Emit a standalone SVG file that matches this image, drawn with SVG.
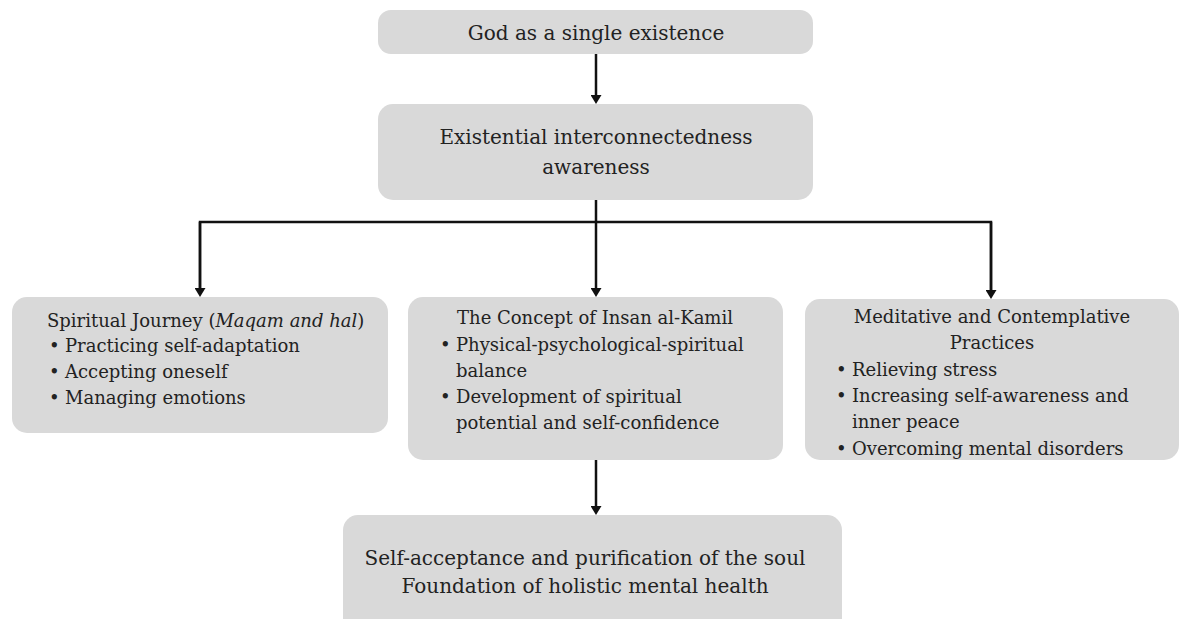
<svg xmlns="http://www.w3.org/2000/svg" width="1181" height="619" viewBox="0 0 1181 619">
<style>
.box{fill:#d9d9d9;}
.t{font-family:"DejaVu Serif","Liberation Serif",serif;fill:#222;}
.h{font-size:20px;}
.b{font-size:18px;}
.c{stroke:#111;stroke-width:2.5;fill:none;}
</style>
<defs>
<marker id="ah" markerWidth="9" markerHeight="11" refX="0" refY="5.5" orient="auto" markerUnits="userSpaceOnUse" viewBox="0 0 9 11">
<path d="M0,0 L9,5.5 L0,11 Z" fill="#111"/>
</marker>
</defs>
<rect width="1181" height="619" fill="#fff"/>
<g id="connectors">
<path class="c" d="M596,54 V95" marker-end="url(#ah)"/>
<path class="c" d="M596,200 V288" marker-end="url(#ah)"/>
<path class="c" d="M200,288 V222 H991 V290"/>
<path class="c" d="M200,222 V288" marker-end="url(#ah)"/>
<path class="c" d="M991,222 V290" marker-end="url(#ah)"/>
<path class="c" d="M596,460 V506" marker-end="url(#ah)"/>
</g>
<g id="n1">
<rect class="box" x="378" y="10" width="435" height="44" rx="13"/>
<text class="t h" x="596" y="40" text-anchor="middle">God as a single existence</text>
</g>
<g id="n2">
<rect class="box" x="378" y="104" width="435" height="96" rx="15"/>
<text class="t h" x="596" y="144" text-anchor="middle">Existential interconnectedness</text>
<text class="t h" x="596" y="174" text-anchor="middle">awareness</text>
</g>
<g id="n3">
<rect class="box" x="12" y="297" width="376" height="136" rx="15"/>
<text class="t b" x="47" y="327">Spiritual Journey (<tspan font-style="italic">Maqam and hal</tspan>)</text>
<text class="t b" x="49" y="352">•</text><text class="t b" x="65" y="352">Practicing self-adaptation</text>
<text class="t b" x="49" y="378">•</text><text class="t b" x="65" y="378">Accepting oneself</text>
<text class="t b" x="49" y="404">•</text><text class="t b" x="65" y="404">Managing emotions</text>
</g>
<g id="n4">
<rect class="box" x="408" y="297" width="375" height="163" rx="15"/>
<text class="t b" x="595" y="324" text-anchor="middle">The Concept of Insan al-Kamil</text>
<text class="t b" x="440" y="351">•</text><text class="t b" x="456" y="351">Physical-psychological-spiritual</text>
<text class="t b" x="456" y="377">balance</text>
<text class="t b" x="440" y="403">•</text><text class="t b" x="456" y="403">Development of spiritual</text>
<text class="t b" x="456" y="429">potential and self-confidence</text>
</g>
<g id="n5">
<rect class="box" x="805" y="299" width="374" height="161" rx="15"/>
<text class="t b" x="992" y="323" text-anchor="middle">Meditative and Contemplative</text>
<text class="t b" x="992" y="349" text-anchor="middle">Practices</text>
<text class="t b" x="836" y="376">•</text><text class="t b" x="852" y="376">Relieving stress</text>
<text class="t b" x="836" y="402">•</text><text class="t b" x="852" y="402">Increasing self-awareness and</text>
<text class="t b" x="852" y="428">inner peace</text>
<text class="t b" x="836" y="455">•</text><text class="t b" x="852" y="455">Overcoming mental disorders</text>
</g>
<g id="n6">
<rect class="box" x="343" y="515" width="499" height="120" rx="15"/>
<text class="t h" x="585" y="565" text-anchor="middle">Self-acceptance and purification of the soul</text>
<text class="t h" x="585" y="593" text-anchor="middle">Foundation of holistic mental health</text>
</g>
</svg>
